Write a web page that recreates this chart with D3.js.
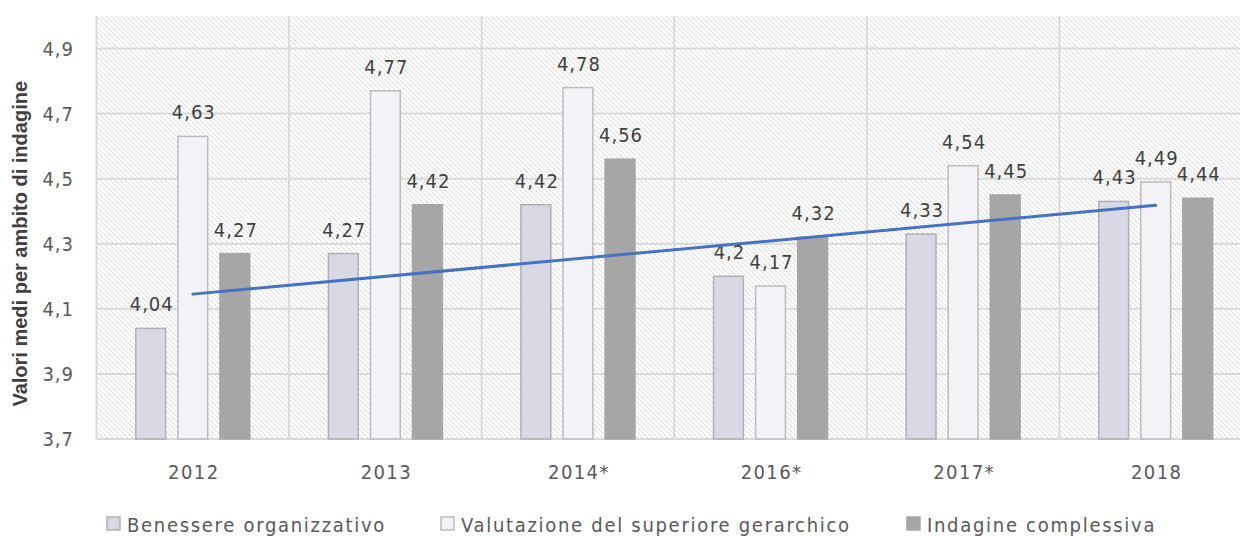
<!DOCTYPE html>
<html>
<head>
<meta charset="utf-8">
<script src="https://cdn.jsdelivr.net/npm/d3@7"></script>
<style>
  body { margin: 0; background: #fff; }
  svg { display: block; }
</style>
</head>
<body>
<div id="graph"></div>
<script>
// Anni dell'indagine
let years = ["2012", "2013", "2014*", "2016*", "2017*", "2018"];

// Valori medi per serie
let benessere = [4.04, 4.27, 4.42, 4.2, 4.33, 4.43];
let valutazione = [4.63, 4.77, 4.78, 4.17, 4.54, 4.49];
let complessiva = [4.27, 4.42, 4.56, 4.32, 4.45, 4.44];

let series_names = ["Benessere organizzativo", "Valutazione del superiore gerarchico", "Indagine complessiva"];
let y_ticks = [3.7, 3.9, 4.1, 4.3, 4.5, 4.7, 4.9];

let fills = ["#d9d9e6", "#f2f2f7", "#a6a6a6"];
let strokes = ["#b0b0b0", "#bcbcbc", "#a6a6a6"];

let width = 1240;
let height = 536;
let margin = {top: 16, left: 96.5, bottom: 97};
let plot_right = 1252;

let font_num = "'DejaVu Sans Condensed', 'DejaVu Sans', sans-serif";
let text_color = "#595959";

let chart = d3.select("#graph")
              .append("svg")
              .attr("width", width)
              .attr("height", height);

// Hatched background pattern
let defs = chart.append("defs");
let pattern = defs.append("pattern")
                  .attr("id", "hatch")
                  .attr("patternUnits", "userSpaceOnUse")
                  .attr("width", 5)
                  .attr("height", 5);
pattern.append("path")
       .attr("d", "M-1,-1 L6,6 M-1,4 L1,6 M4,-1 L6,1")
       .attr("stroke", "#dcdcdc")
       .attr("stroke-width", 1);

let x = d3.scaleBand()
          .domain(years)
          .range([margin.left, plot_right]);

let y = d3.scaleLinear()
          .domain([3.7, 5.0])
          .range([height - margin.bottom, margin.top]);

chart.append("rect")
     .attr("x", margin.left)
     .attr("y", margin.top)
     .attr("width", plot_right - margin.left)
     .attr("height", y(3.7) - margin.top)
     .attr("fill", "url(#hatch)");

// Horizontal grid lines
chart.append("g")
     .selectAll("line")
     .data(y_ticks)
     .enter().append("line")
     .attr("x1", margin.left)
     .attr("x2", plot_right)
     .attr("y1", d => y(d))
     .attr("y2", d => y(d))
     .attr("stroke", "#d9d9d9")
     .attr("stroke-width", 2);

// Vertical grid lines at category boundaries
let bounds = years.map(d => x(d)).concat([plot_right]);
chart.append("g")
     .selectAll("line")
     .data(bounds)
     .enter().append("line")
     .attr("x1", d => d)
     .attr("x2", d => d)
     .attr("y1", margin.top)
     .attr("y2", y(3.7))
     .attr("stroke", "#d9d9d9")
     .attr("stroke-width", 2);

// Y axis labels
chart.append("g")
     .selectAll("text")
     .data(y_ticks)
     .enter().append("text")
     .attr("x", 74)
     .attr("y", d => y(d) + 7)
     .attr("text-anchor", "end")
     .attr("font-family", font_num)
     .attr("font-size", 20)
     .attr("letter-spacing", 1)
     .attr("fill", text_color)
     .text(d => d3.format(".1f")(d).replace(".", ","));

// X axis labels
chart.append("g")
     .selectAll("text")
     .data(years)
     .enter().append("text")
     .attr("x", d => x(d) + x.bandwidth() / 2 + 1)
     .attr("y", 479)
     .attr("text-anchor", "middle")
     .attr("font-family", font_num)
     .attr("font-size", 20)
     .attr("letter-spacing", 1.4)
     .attr("fill", text_color)
     .text(d => d);

// Y axis title
chart.append("text")
     .attr("transform", "translate(27," + (y(4.3)) + ") rotate(-90)")
     .attr("text-anchor", "middle")
     .attr("font-family", "'Liberation Sans', Arial, sans-serif")
     .attr("font-weight", "bold")
     .attr("font-size", 20)
     .attr("fill", "#404040")
     .text("Valori medi per ambito di indagine");

// Bars
let inner = d3.scaleBand()
              .domain([0, 1, 2])
              .range([-57, 57])
              .paddingInner(0.29)
              .paddingOuter(0);

let all_series = [benessere, valutazione, complessiva];

all_series.forEach(function(values, s) {
  let g = chart.append("g");
  let data = values.map((v, i) => ({year: years[i], value: v}));

  g.selectAll("rect")
   .data(data)
   .enter().append("rect")
   .attr("x", d => x(d.year) + x.bandwidth() / 2 + inner(s))
   .attr("y", d => y(d.value))
   .attr("width", inner.bandwidth())
   .attr("height", d => y(3.7) - y(d.value))
   .attr("fill", fills[s])
   .attr("stroke", strokes[s])
   .attr("stroke-width", 1.5);

  g.selectAll("text")
   .data(data)
   .enter().append("text")
   .attr("x", d => x(d.year) + x.bandwidth() / 2 + inner(s) + inner.bandwidth() / 2 + 1)
   .attr("y", d => y(d.value) - 17)
   .attr("text-anchor", "middle")
   .attr("font-family", font_num)
   .attr("font-size", 20)
   .attr("letter-spacing", 1)
   .attr("fill", "#404040")
   .text(d => String(d.value).replace(".", ","));
});

// Linear trend of Benessere organizzativo
let idx = benessere.map((v, i) => i + 1);
let mean_x = d3.mean(idx);
let mean_y = d3.mean(benessere);
let slope = d3.sum(idx, (v, i) => (v - mean_x) * (benessere[i] - mean_y)) /
            d3.sum(idx, v => (v - mean_x) * (v - mean_x));
let intercept = mean_y - slope * mean_x;
let trend = [idx[0], idx[idx.length - 1]].map(i => ({year: years[i - 1], value: intercept + slope * i}));

chart.append("path")
     .datum(trend)
     .attr("fill", "none")
     .attr("stroke", "#4472c4")
     .attr("stroke-width", 3)
     .attr("stroke-linecap", "round")
     .attr("d", d3.line()
                  .x(d => x(d.year) + x.bandwidth() / 2)
                  .y(d => y(d.value)));

// Legend
let legend_x = [107, 441, 907];
let legend = chart.append("g");
series_names.forEach(function(name, s) {
  legend.append("rect")
        .attr("x", legend_x[s])
        .attr("y", 517)
        .attr("width", 13)
        .attr("height", 13)
        .attr("fill", fills[s])
        .attr("stroke", strokes[s])
        .attr("stroke-width", 1.5);
  legend.append("text")
        .attr("x", legend_x[s] + 20)
        .attr("y", 532)
        .attr("font-family", font_num)
        .attr("font-size", 20)
        .attr("letter-spacing", 1.7)
        .attr("fill", text_color)
        .text(name);
});
</script>
</body>
</html>
